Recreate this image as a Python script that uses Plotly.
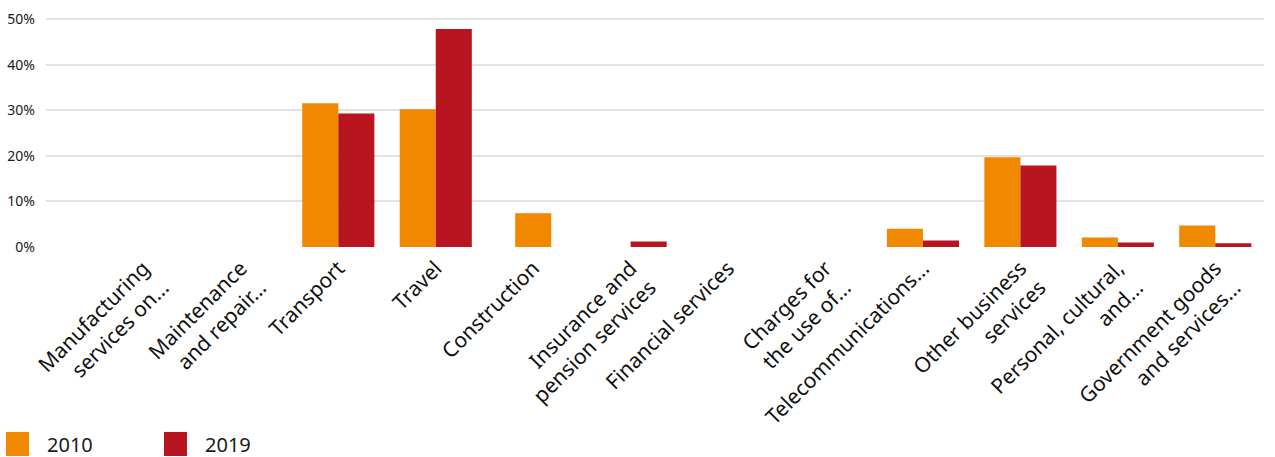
import plotly.graph_objects as go

categories = [
    "Manufacturing<br>services on...",
    "Maintenance<br>and repair...",
    "Transport",
    "Travel",
    "Construction",
    "Insurance and<br>pension services",
    "Financial services",
    "Charges for<br>the use of...",
    "Telecommunications...",
    "Other business<br>services",
    "Personal, cultural,<br>and...",
    "Government goods<br>and services...",
]
series_names = ["2010", "2019"]
values_2010 = [None, None, 31.5, 30.2, 7.4, 0, None, None, 4.0, 19.7, 2.1, 4.7]
values_2019 = [None, None, 29.3, 47.8, None, 1.2, None, None, 1.4, 17.9, 1.0, 0.8]
y_ticks = [0, 10, 20, 30, 40, 50]

colors = ["#F08800", "#B91520"]

W, H = 1275, 457
ML, MR, MT, MB = 46, 11, 12, 210
PW, PH = W - ML - MR, H - MT - MB
PX_PER_UNIT = 4.56
BW = 0.37

x_idx = list(range(len(categories)))

def offsets(own, other, default):
    out = []
    for a, b in zip(own, other):
        if a is not None and b is None:
            out.append(-BW / 2)
        else:
            out.append(default)
    return out

fig = go.Figure()
fig.add_trace(go.Bar(x=x_idx, y=values_2010, name=series_names[0],
                     marker=dict(color=colors[0], line=dict(width=0)),
                     width=BW, offset=offsets(values_2010, values_2019, -BW),
                     showlegend=False, hoverinfo="skip"))
fig.add_trace(go.Bar(x=x_idx, y=values_2019, name=series_names[1],
                     marker=dict(color=colors[1], line=dict(width=0)),
                     width=BW, offset=offsets(values_2019, values_2010, 0),
                     showlegend=False, hoverinfo="skip"))

font_family = "Noto Sans, Open Sans, DejaVu Sans, sans-serif"

def px_to_paper_x(px):
    return (px - ML) / PW

def px_to_paper_y(py):
    return (H - MB - py) / PH

legend_items = [(6, 45), (164, 203)]
for (sq_x, txt_x), name, col in zip(legend_items, series_names, colors):
    fig.add_shape(type="rect", xref="paper", yref="paper",
                  x0=px_to_paper_x(sq_x), x1=px_to_paper_x(sq_x + 23),
                  y0=px_to_paper_y(432), y1=px_to_paper_y(456),
                  fillcolor=col, line=dict(width=0))
    fig.add_annotation(xref="paper", yref="paper", x=px_to_paper_x(txt_x),
                       y=px_to_paper_y(444), text=name, showarrow=False,
                       xanchor="left", yanchor="middle",
                       font=dict(family=font_family, size=20, color="#1a1a1a"))

fig.update_layout(
    width=W, height=H,
    margin=dict(l=ML, r=MR, t=MT, b=MB, pad=0, autoexpand=False),
    barmode="overlay",
    plot_bgcolor="white", paper_bgcolor="white",
    font=dict(family=font_family, color="#1a1a1a"),
    showlegend=False,
    xaxis=dict(
        range=[-1, 11.5], automargin=False,
        tickmode="array", tickvals=x_idx, ticktext=categories,
        tickangle=-45, showgrid=False, zeroline=False, showline=False,
        ticks="", ticklabelstandoff=4,
        tickfont=dict(size=21, color="#111111"),
    ),
    yaxis=dict(
        range=[0, PH / PX_PER_UNIT], automargin=False,
        tickmode="array", tickvals=y_ticks,
        ticktext=[f"{v}%" for v in y_ticks],
        showgrid=True, gridcolor="#e2e2e2", gridwidth=2,
        zeroline=False, showline=False, ticks="",
        ticklabelstandoff=10,
        tickfont=dict(size=14, color="#1a1a1a"),
    ),
)

fig.write_html("out.html", config={"displayModeBar": False},
               post_script="document.body.style.margin='0px';")
